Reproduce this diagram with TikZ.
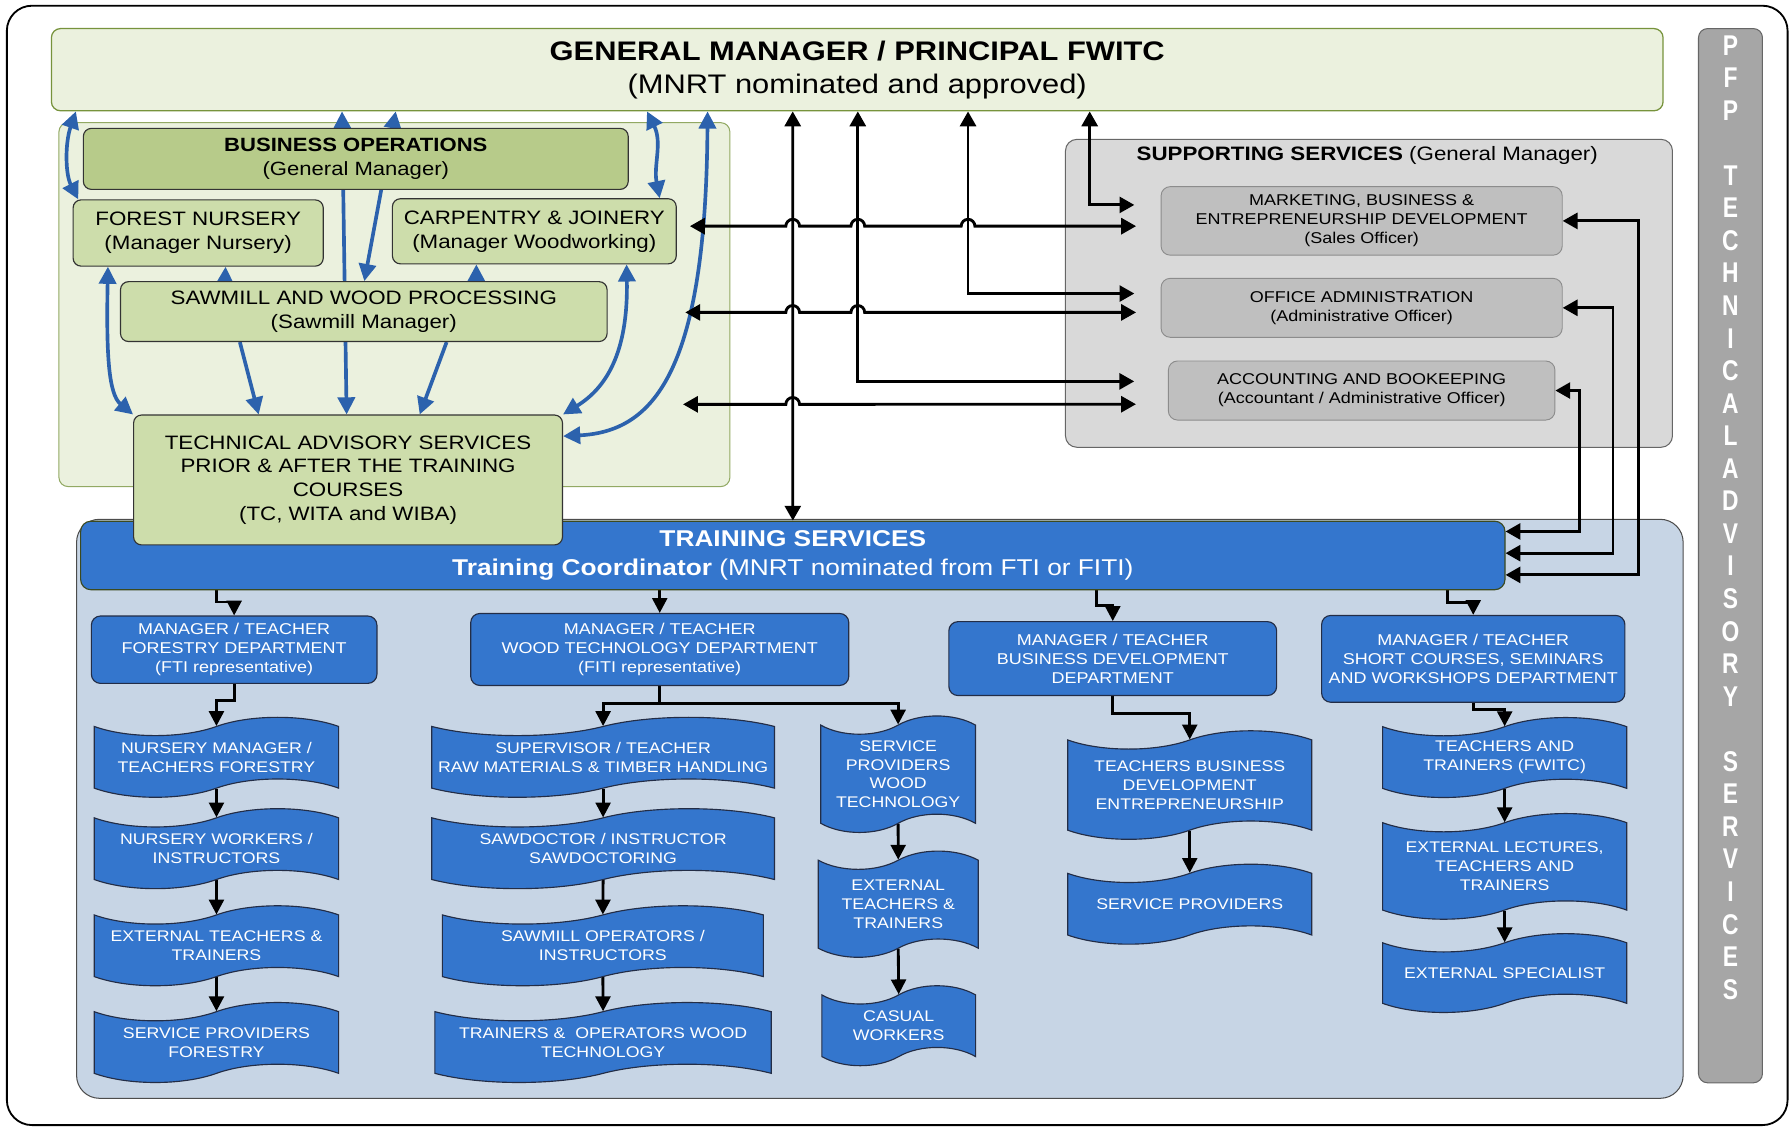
\documentclass[tikz,border=0pt]{standalone}
\usepackage{fontspec}
\setmainfont{Liberation Sans}[FakeStretch=1.15]
\newfontfamily\pfpfont{Liberation Sans}[FakeStretch=0.8]
\usetikzlibrary{arrows.meta,shapes.symbols}
\definecolor{gmf}{RGB}{235,241,222}
\definecolor{gml}{RGB}{119,147,60}
\definecolor{bof}{RGB}{183,203,138}
\definecolor{unf}{RGB}{205,221,171}
\definecolor{spf}{RGB}{217,217,217}
\definecolor{sbf}{RGB}{191,191,191}
\definecolor{trf}{RGB}{199,213,229}
\definecolor{blf}{RGB}{52,118,205}
\definecolor{bll}{RGB}{44,98,173}
\definecolor{pff}{RGB}{166,166,166}
\definecolor{nvy}{RGB}{35,45,70}
\pgfdeclarelayer{back}\pgfdeclarelayer{wires}\pgfsetlayers{back,wires,main}
\newcommand\fsz[2]{\fontsize{#1}{#2}\selectfont}
\tikzset{gmbox/.style={draw=gml,fill=gmf,rounded corners=8pt,line width=1.1pt,align=center,inner sep=0pt},
 zone/.style={rounded corners=10pt,line width=.9pt},
 bop/.style={draw=black!80,fill=bof,rounded corners=7pt,line width=1pt,align=center,inner sep=0pt,font=\fsz{16.8}{21}},
 unt/.style={bop,fill=unf,font=\fsz{17}{21}},
 sbx/.style={draw=black!45,fill=sbf,rounded corners=8pt,line width=.8pt,align=center,inner sep=0pt,font=\fsz{13.7}{16.5}},
 mgr/.style={draw=nvy,fill=blf,text=white,rounded corners=8pt,line width=1pt,align=center,inner sep=0pt,font=\fsz{13.7}{16.5}},
 wav/.style={tape,tape bend top=in and out,tape bend bottom=in and out,tape bend height=16pt,draw=nvy,fill=blf,text=white,line width=1pt,align=center,inner sep=0pt,font=\fsz{13.5}{16.5}},
 ar/.style={-{Triangle[length=13pt,width=13pt]},line width=2.5pt},
 dar/.style={{Triangle[length=13pt,width=14pt]}-{Triangle[length=13pt,width=14pt]},line width=2.5pt},
 bar/.style={draw=bll,line width=3.2pt,-{Triangle[length=15pt,width=15pt]}},
 bdar/.style={bar,{Triangle[length=15pt,width=15pt]}-{Triangle[length=15pt,width=15pt]}}}
\begin{document}
\begin{tikzpicture}[x=1pt,y=-1pt]
\useasboundingbox (0,0) rectangle (1568,987);
\begin{pgfonlayer}{back}
\draw[line width=1.6pt,rounded corners=22pt] (6,5) rectangle (1565,985);
\node[zone,draw=gml!80,fill=gmf,rounded corners=8pt,minimum width=587.4pt,minimum height=318.6pt] (bz) at (345.3,266.7) {};
\node[zone,draw=black!60,fill=spf,minimum width=531.4pt,minimum height=269.6pt] (sz) at (1198.5,256.8) {};
\node[zone,draw=black!70,fill=trf,rounded corners=20pt,minimum width=1406.5pt,minimum height=506.9pt] (tz) at (770.3,708.1) {};
\node[zone,draw=black!60,fill=pff,rounded corners=8pt,minimum width=56pt,minimum height=923pt] (pfp) at (1515,486.5) {};
\end{pgfonlayer}
% top
\node[gmbox,minimum width=1411pt,minimum height=72pt,font=\fsz{23.5}{29}] (gm) at (750.5,61) {\textbf{GENERAL MANAGER / PRINCIPAL FWITC}\\(MNRT nominated and approved)};
\node[text=white,align=center,inner sep=0pt,font={\pfpfont\bfseries\fsz{25}{28.5}}] (pft) at (1515,453) {P\\F\\P\\[28.5pt]T\\E\\C\\H\\N\\I\\C\\A\\L\\A\\D\\V\\I\\S\\O\\R\\Y\\[28.5pt]S\\E\\R\\V\\I\\C\\E\\S};
% business operations
\node[bop,minimum width=477pt,minimum height=53.4pt] (bo) at (311.5,139.1) {\textbf{BUSINESS OPERATIONS}\\(General Manager)};
\node[unt,minimum width=219pt,minimum height=58pt] (nur) at (173.5,204) {FOREST NURSERY\\(Manager Nursery)};
\node[unt,minimum width=248.5pt,minimum height=57pt] (carp) at (467.8,202.5) {CARPENTRY \& JOINERY\\(Manager Woodworking)};
\node[unt,minimum width=426pt,minimum height=52.4pt] (saw) at (318.5,272.8) {SAWMILL AND WOOD PROCESSING\\(Sawmill Manager)};
% supporting services
\node[inner sep=0pt,font=\fsz{17}{21}] (supt) at (1197,135.7) {\textbf{SUPPORTING SERVICES} (General Manager)};
\node[sbx,minimum width=351.2pt,minimum height=60pt] (mkt) at (1192.1,193.4) {MARKETING, BUSINESS \&\\ENTREPRENEURSHIP DEVELOPMENT\\(Sales Officer)};
\node[sbx,minimum width=351.2pt,minimum height=51.6pt] (off) at (1192.1,269.5) {OFFICE ADMINISTRATION\\(Administrative Officer)};
\node[sbx,minimum width=338.4pt,minimum height=51.7pt] (acc) at (1192.1,341.9) {ACCOUNTING AND BOOKEEPING\\(Accountant / Administrative Officer)};
% training services
\node[mgr,draw=black!50!gml,rounded corners=9pt,minimum width=1247pt,minimum height=60pt,font=\fsz{20}{25}] (hdr) at (694.1,486.3) {\textbf{TRAINING SERVICES}\\\textbf{Training Coordinator} (MNRT nominated from FTI or FITI)};
\node[unt,minimum width=375.5pt,minimum height=113.7pt,font=\fsz{17}{20.7}] (tas) at (304.7,420.2) {TECHNICAL ADVISORY SERVICES\\PRIOR \& AFTER THE TRAINING\\COURSES\\(TC, WITA and WIBA)};
\node[mgr,minimum width=250pt,minimum height=59pt] (m1) at (205,568.8) {MANAGER / TEACHER\\FORESTRY DEPARTMENT\\(FTI representative)};
\node[mgr,minimum width=331pt,minimum height=63pt] (m2) at (577.6,568.6) {MANAGER / TEACHER\\WOOD TECHNOLOGY DEPARTMENT\\(FITI representative)};
\node[mgr,minimum width=287pt,minimum height=64.7pt] (m3) at (974.2,576.6) {MANAGER / TEACHER\\BUSINESS DEVELOPMENT\\DEPARTMENT};
\node[mgr,minimum width=265.5pt,minimum height=76pt] (m4) at (1289.8,576.8) {MANAGER / TEACHER\\SHORT COURSES, SEMINARS\\AND WORKSHOPS DEPARTMENT};
\node[wav,minimum width=214pt,minimum height=70pt] (a1) at (189.5,663) {NURSERY MANAGER /\\TEACHERS FORESTRY};
\node[wav,minimum width=214pt,minimum height=70pt] (a2) at (189.5,743) {NURSERY WORKERS /\\INSTRUCTORS};
\node[wav,minimum width=214pt,minimum height=70pt] (a3) at (189.5,828) {EXTERNAL TEACHERS \&\\TRAINERS};
\node[wav,minimum width=214pt,minimum height=70pt] (a4) at (189.5,912.7) {SERVICE PROVIDERS\\FORESTRY};
\node[wav,minimum width=300pt,minimum height=70pt] (b1) at (528,663) {SUPERVISOR / TEACHER\\RAW MATERIALS \& TIMBER HANDLING};
\node[wav,minimum width=300pt,minimum height=70pt] (b2) at (528,743) {SAWDOCTOR / INSTRUCTOR\\SAWDOCTORING};
\node[wav,minimum width=281pt,minimum height=70pt] (b3) at (527.8,828) {SAWMILL OPERATORS /\\INSTRUCTORS};
\node[wav,minimum width=294.5pt,minimum height=70pt] (b4) at (528,912.7) {TRAINERS \&~ OPERATORS WOOD\\TECHNOLOGY};
\node[wav,minimum width=135.5pt,minimum height=102pt] (c1) at (786.3,677.8) {SERVICE\\PROVIDERS\\WOOD\\TECHNOLOGY};
\node[wav,minimum width=140pt,minimum height=93pt] (c2) at (786.4,791.6) {EXTERNAL\\TEACHERS \&\\TRAINERS};
\node[wav,minimum width=134.6pt,minimum height=70pt] (c3) at (786.8,898) {CASUAL\\WORKERS};
\node[wav,minimum width=213.7pt,minimum height=95pt] (d1) at (1041.6,687.3) {TEACHERS BUSINESS\\DEVELOPMENT\\ENTREPRENEURSHIP};
\node[wav,minimum width=213.7pt,minimum height=70pt] (d2) at (1041.6,791.6) {SERVICE PROVIDERS};
\node[wav,minimum width=213.7pt,minimum height=70pt] (e1) at (1317.3,663.2) {TEACHERS AND\\TRAINERS (FWITC)};
\node[wav,minimum width=213.7pt,minimum height=92.5pt] (e2) at (1317.3,758.5) {EXTERNAL LECTURES,\\TEACHERS AND\\TRAINERS};
\node[wav,minimum width=213.7pt,minimum height=69pt] (e3) at (1317.3,851.9) {EXTERNAL SPECIALIST};
\begin{pgfonlayer}{wires}
% blue links inside business operations
\draw[bdar] ([xshift=22pt]gm.south west) .. controls (57,125) and (57,152) .. ([xshift=5pt]nur.north west);
\draw[bdar] ([xshift=255pt]gm.south west) -- ([xshift=187pt]tas.north west);
\draw[bdar] ([xshift=302pt]gm.south west) -- ([xshift=214pt]saw.north west);
\draw[bdar] ([xshift=31pt]nur.south west) .. controls (93,310) and (95,345) .. (tas.north west);
\draw[bar] ([xshift=92pt]saw.north west) -- ([xshift=134pt]nur.south west);
\draw[bar] ([xshift=312pt]saw.north west) -- ([xshift=74pt]carp.south west);
\draw[bar] ([xshift=105pt]saw.south west) -- ([xshift=110pt]tas.north west);
\draw[bar] ([xshift=286pt]saw.south west) -- ([xshift=251pt]tas.north west);
\draw[bdar] ([xshift=-44pt]carp.south east) .. controls (550,310) and (530,340) .. (tas.north east);
\draw[bdar] ([xshift=522pt]gm.south west) .. controls (580,125) and (572,145) .. ([xshift=-15pt]carp.north east);
\draw[bdar] ([xshift=575pt]gm.south west) .. controls (618,330) and (570,378) .. ([yshift=-19pt]tas.north east);
% black links
\coordinate (h1) at (604,198);
\coordinate (h2) at (600,273.5);
\coordinate (h3) at (598,354);
\draw[dar] ([xshift=-56.5pt]gm.south) -- (hdr.north);
\draw[dar] ([xshift=0.5pt]gm.south) |- ([xshift=-29.5pt,yshift=8pt]acc.west);
\draw[dar] ([xshift=97pt]gm.south) |- ([xshift=-23pt,yshift=12.5pt]off.west);
\draw[dar] ([xshift=203.5pt]gm.south) |- ([xshift=-23pt,yshift=14pt]mkt.west);
\draw[dar] (h1) -- (688,198) arc[start angle=180,end angle=0,radius=6pt] -- (745,198) arc[start angle=180,end angle=0,radius=6pt] -- (841.5,198) arc[start angle=180,end angle=0,radius=6pt] -- ([xshift=-21.5pt,yshift=-4.6pt]mkt.west);
\draw[dar] (h2) -- (688,273.5) arc[start angle=180,end angle=0,radius=6pt] -- (745,273.5) arc[start angle=180,end angle=0,radius=6pt] -- ([xshift=-21.5pt,yshift=-4pt]off.west);
\draw[dar] (h3) -- (688,354) arc[start angle=180,end angle=0,radius=6pt] -- ([xshift=-28pt,yshift=-12pt]acc.west);
\draw[dar] ([yshift=21pt]hdr.east) -| ([xshift=21pt]acc.east) -- (acc.east);
\draw[dar] ([yshift=2pt]hdr.east) -| ([xshift=44pt]off.east) -- (off.east);
\draw[dar] ([yshift=-17pt]hdr.east) -| ([xshift=66pt]mkt.east) -- (mkt.east);
% training tree
\draw[ar] ([xshift=119.4pt]hdr.south west) |- ([yshift=11.7pt]m1.north) -- (m1.north);
\draw[ar] (hdr.south -| m2.north) -- (m2.north);
\draw[ar] ([xshift=889.8pt]hdr.south west) |- ([yshift=13.7pt]m3.north) -- (m3.north);
\draw[ar] ([xshift=1197pt]hdr.south west) |- ([yshift=11pt]m4.north) -- (m4.north);
\draw[ar] (m1.south) |- ([yshift=22pt]a1.north) -- (a1.north);
\coordinate (wt) at ([yshift=-15pt]m2.south);
\draw[ar] (m2.south) -- (wt) -| (b1.north);
\draw[ar] (wt) -| (c1.north);
\draw[ar] (m3.south) |- ([yshift=23pt]d1.north) -- (d1.north);
\draw[ar] (m4.south) |- ([yshift=15pt]e1.north) -- (e1.north);
\foreach \u/\v in {a1/a2,a2/a3,a3/a4,b1/b2,b2/b3,b3/b4,c1/c2,c2/c3,d1/d2,e1/e2,e2/e3}{\draw[ar] (\u.south) -- (\v.north);}
\end{pgfonlayer}
\end{tikzpicture}
\end{document}
